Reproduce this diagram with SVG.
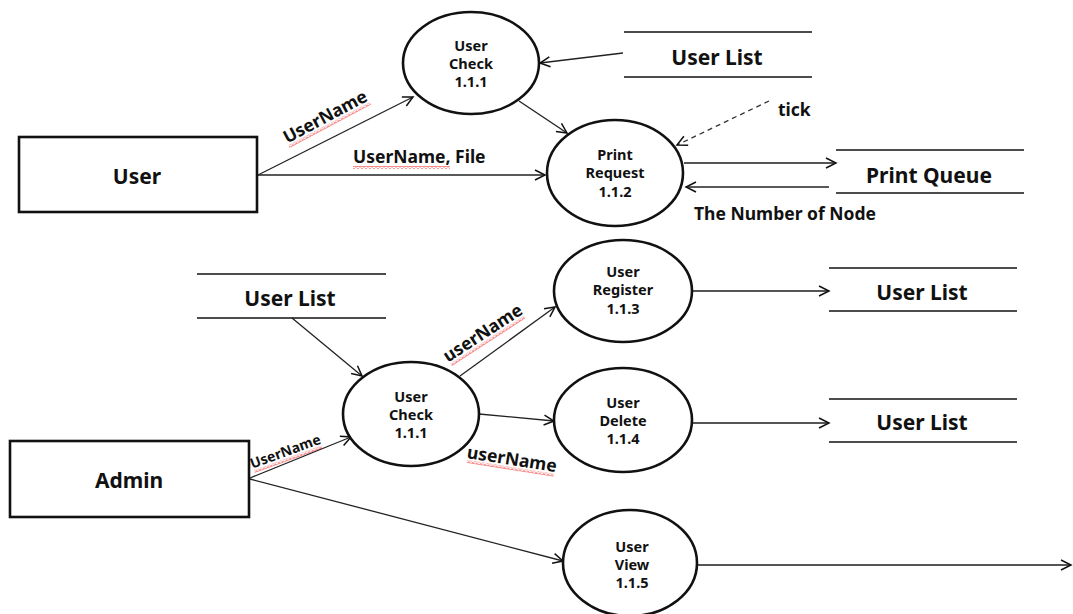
<svg xmlns="http://www.w3.org/2000/svg" width="1073" height="614" viewBox="0 0 1073 614">
<style>
text{font-family:"Noto Sans","Liberation Sans",sans-serif;font-weight:bold;fill:#111}
.proc{fill:#fff;stroke:#111;stroke-width:2.6}
.ent{fill:#fff;stroke:#111;stroke-width:2.6}
.store{stroke:#111;stroke-width:1.6}
.pt{font-size:14.5px;text-anchor:middle}
.big{font-size:21px;text-anchor:middle}
.lbl{font-size:17.5px}
.sm{font-size:14px}
.c{fill:none;stroke:#222;stroke-width:1.3;marker-end:url(#ah)}
.g{fill:none;stroke:#555;stroke-width:2;marker-end:url(#ah)}
.d{fill:none;stroke:#333;stroke-width:1.3;stroke-dasharray:5,4;marker-end:url(#ah)}
.sq{fill:url(#sqp)}
</style>
<defs>
<marker id="ah" markerUnits="userSpaceOnUse" markerWidth="14" markerHeight="14" refX="11" refY="6" orient="auto">
<path d="M1,1 L11,6 L1,11" fill="none" stroke="#111" stroke-width="1.5"/>
</marker>
<pattern id="sqp" patternUnits="userSpaceOnUse" width="4" height="3">
<polyline points="0,2.5 2,0.5 4,2.5" fill="none" stroke="#e00" stroke-width="0.9"/>
</pattern>
</defs>

<g id="connectors">
<line class="c" x1="258" y1="175" x2="413" y2="97"/>
<line class="c" x1="258" y1="175" x2="545" y2="175"/>
<line class="c" x1="519" y1="101" x2="567" y2="133"/>
<line class="c" x1="623" y1="53" x2="540" y2="63"/>
<line class="d" x1="769" y1="101" x2="677" y2="145"/>
<line class="g" x1="684" y1="163" x2="836" y2="163"/>
<line class="c" x1="829" y1="187" x2="686" y2="187"/>
<line class="c" x1="292" y1="318" x2="362" y2="376"/>
<line class="c" x1="250" y1="478" x2="351" y2="437"/>
<line class="c" x1="460" y1="376" x2="555" y2="307"/>
<line class="c" x1="479" y1="414" x2="554" y2="421"/>
<line class="c" x1="250" y1="479" x2="563" y2="561"/>
<line class="g" x1="693" y1="291" x2="829" y2="291"/>
<line class="g" x1="693" y1="423" x2="829" y2="423"/>
<line class="g" x1="698" y1="565" x2="1071" y2="565"/>
</g>

<g id="labels">
<g transform="translate(328,122) rotate(-28)">
<text class="lbl" x="0" y="0" text-anchor="middle">UserName</text>
<rect class="sq" x="-46" y="2" width="92" height="3"/>
</g>
<text class="lbl" x="353" y="163">UserName, File</text>
<rect class="sq" x="353" y="166" width="97" height="3"/>
<text class="lbl" x="778" y="116">tick</text>
<text class="lbl" x="694" y="220">The Number of Node</text>
<g transform="translate(486,338) rotate(-33)">
<text class="lbl" x="0" y="0" text-anchor="middle">userName</text>
<rect class="sq" x="-44" y="2" width="88" height="3"/>
</g>
<g transform="translate(511,465) rotate(9)">
<text class="lbl" x="0" y="0" text-anchor="middle">userName</text>
<rect class="sq" x="-44" y="2" width="88" height="3"/>
</g>
<g transform="translate(287,456) rotate(-20)">
<text class="sm" x="0" y="0" text-anchor="middle">UserName</text>
<rect class="sq" x="-36" y="2" width="72" height="3"/>
</g>
</g>

<g id="user">
<rect class="ent" x="19" y="137" width="238" height="75"/>
<text class="big" x="137" y="184">User</text>
</g>
<g id="admin">
<rect class="ent" x="10" y="441" width="239" height="76"/>
<text class="big" x="129" y="488">Admin</text>
</g>

<g id="userCheckTop">
<ellipse class="proc" cx="471" cy="63" rx="68" ry="51"/>
<text class="pt" x="471" y="51">User</text>
<text class="pt" x="471" y="69">Check</text>
<text class="pt" x="471" y="87">1.1.1</text>
</g>
<g id="printRequest">
<ellipse class="proc" cx="615" cy="173" rx="68" ry="53"/>
<text class="pt" x="615" y="160">Print</text>
<text class="pt" x="615" y="178">Request</text>
<text class="pt" x="615" y="197">1.1.2</text>
</g>
<g id="userCheckBottom">
<ellipse class="proc" cx="411" cy="414" rx="68" ry="52"/>
<text class="pt" x="411" y="402">User</text>
<text class="pt" x="411" y="420">Check</text>
<text class="pt" x="411" y="438">1.1.1</text>
</g>
<g id="userRegister">
<ellipse class="proc" cx="623" cy="291" rx="69" ry="51"/>
<text class="pt" x="623" y="277">User</text>
<text class="pt" x="623" y="295">Register</text>
<text class="pt" x="623" y="314">1.1.3</text>
</g>
<g id="userDelete">
<ellipse class="proc" cx="623" cy="420" rx="69" ry="52"/>
<text class="pt" x="623" y="408">User</text>
<text class="pt" x="623" y="426">Delete</text>
<text class="pt" x="623" y="444">1.1.4</text>
</g>
<g id="userView">
<ellipse class="proc" cx="630" cy="563" rx="67" ry="53"/>
<text class="pt" x="632" y="552">User</text>
<text class="pt" x="632" y="570">View</text>
<text class="pt" x="632" y="588">1.1.5</text>
</g>

<g id="storeUserListTop">
<line class="store" x1="624" y1="32" x2="812" y2="32"/>
<line class="store" x1="624" y1="77" x2="812" y2="77"/>
<text class="big" x="717" y="65">User List</text>
</g>
<g id="storePrintQueue">
<line class="store" x1="836" y1="150" x2="1024" y2="150"/>
<line class="store" x1="836" y1="193" x2="1024" y2="193"/>
<text class="big" x="929" y="183">Print Queue</text>
</g>
<g id="storeUserListLeft">
<line class="store" x1="197" y1="274" x2="386" y2="274"/>
<line class="store" x1="197" y1="318" x2="386" y2="318"/>
<text class="big" x="290" y="306">User List</text>
</g>
<g id="storeUserListRegister">
<line class="store" x1="829" y1="268" x2="1017" y2="268"/>
<line class="store" x1="829" y1="311" x2="1017" y2="311"/>
<text class="big" x="922" y="300">User List</text>
</g>
<g id="storeUserListDelete">
<line class="store" x1="829" y1="399" x2="1017" y2="399"/>
<line class="store" x1="829" y1="442" x2="1017" y2="442"/>
<text class="big" x="922" y="430">User List</text>
</g>
</svg>
